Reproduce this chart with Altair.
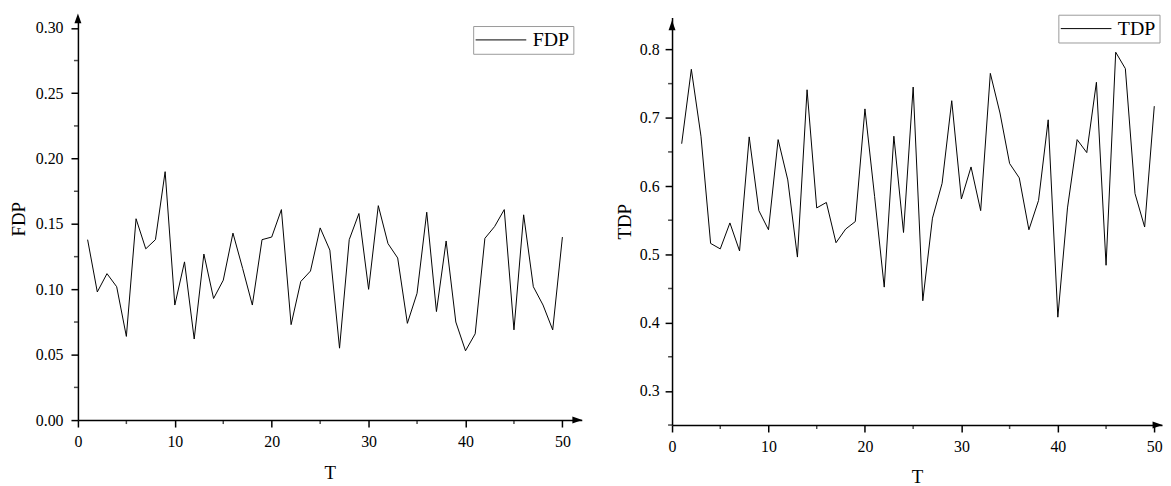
import altair as alt
import pandas as pd

T = list(range(1, 51))
FDP = [0.138, 0.098, 0.112, 0.102, 0.064, 0.154, 0.131, 0.138, 0.190, 0.088,
       0.121, 0.062, 0.127, 0.093, 0.107, 0.143, 0.116, 0.088, 0.138, 0.140,
       0.161, 0.073, 0.106, 0.114, 0.147, 0.130, 0.055, 0.138, 0.158, 0.100,
       0.164, 0.135, 0.124, 0.074, 0.097, 0.159, 0.083, 0.137, 0.075, 0.053,
       0.066, 0.139, 0.148, 0.161, 0.069, 0.157, 0.102, 0.088, 0.069, 0.140]
TDP = [0.662, 0.771, 0.673, 0.516, 0.508, 0.546, 0.505, 0.672, 0.564, 0.536,
       0.668, 0.609, 0.496, 0.741, 0.568, 0.576, 0.517, 0.537, 0.548, 0.713,
       0.585, 0.452, 0.673, 0.532, 0.745, 0.432, 0.553, 0.604, 0.725, 0.581,
       0.628, 0.564, 0.765, 0.707, 0.633, 0.612, 0.536, 0.579, 0.697, 0.408,
       0.568, 0.668, 0.649, 0.752, 0.484, 0.796, 0.772, 0.589, 0.540, 0.717]

X_MAJOR = [0, 10, 20, 30, 40, 50]
X_MINOR = [5, 15, 25, 35, 45]
FDP_MAJOR = [0.0, 0.05, 0.10, 0.15, 0.20, 0.25, 0.30]
FDP_MINOR = [0.025, 0.075, 0.125, 0.175, 0.225, 0.275]
TDP_MAJOR = [0.3, 0.4, 0.5, 0.6, 0.7, 0.8]
TDP_MINOR = [0.25, 0.35, 0.45, 0.55, 0.65, 0.75]

FONT = "Liberation Serif"


def panel(name, values, y_major, y_minor, y_dom, y_fmt, w, h, x_max,
          leg_x, leg_y, y_lab_pad, y_title_pad, y_arrow_cy, x_title_pad):
    df = pd.DataFrame({"T": T, "value": values, "series": [name] * len(T)})
    x_scale = alt.Scale(domain=[0, x_max], nice=False, zero=False)
    y_scale = alt.Scale(domain=y_dom, nice=False, zero=False)
    x_axis = alt.Axis(
        values=X_MAJOR, format="d", tickSize=7,
        labelFont=FONT, labelFontSize=16, labelColor="black",
        labelPadding=6.5, titlePadding=x_title_pad,
        labelFlush=False, labelOverlap=False, labelBound=False,
    )
    y_axis = alt.Axis(
        values=y_major, format=y_fmt, tickSize=7,
        labelFont=FONT, labelFontSize=16, labelColor="black",
        labelPadding=y_lab_pad, titlePadding=y_title_pad,
        labelFlush=False, labelOverlap=False, labelBound=False,
    )
    x = alt.X("T:Q", title="T", scale=x_scale, axis=x_axis)
    y = alt.Y("value:Q", title=name, scale=y_scale, axis=y_axis)
    color = alt.Color(
        "series:N",
        scale=alt.Scale(domain=[name], range=["black"]),
        legend=alt.Legend(
            title=None, orient="none", legendX=leg_x, legendY=leg_y,
            symbolType="M-3,0H3", symbolSize=290, symbolOffset=14,
            symbolStrokeWidth=1, symbolStrokeColor="black",
            labelOffset=22, labelFont=FONT, labelFontSize=20, labelColor="black",
            padding=4, strokeColor="#9a9a9a", fillColor="white", cornerRadius=0,
        ),
    )
    line = alt.Chart(df).mark_line(strokeWidth=1).encode(x=x, y=y, color=color)

    # minor ticks, placed through the chart's own scales
    ymin_df = pd.DataFrame({"value": y_minor})
    ymin = alt.Chart(ymin_df).mark_tick(
        orient="horizontal", size=4, thickness=1.5, color="black"
    ).encode(y=alt.Y("value:Q", title=name, scale=y_scale, axis=y_axis),
             x=alt.value(-2))
    xmin_df = pd.DataFrame({"T": X_MINOR})
    xmin = alt.Chart(xmin_df).mark_tick(
        orient="vertical", size=4, thickness=1.5, color="black"
    ).encode(x=alt.X("T:Q", title="T", scale=x_scale, axis=x_axis),
             y=alt.value(h + 2))

    one = pd.DataFrame({"k": [0]})
    yarrow = alt.Chart(one).mark_point(
        shape="M0,-1L-0.7,1L0.7,1Z", filled=True, size=100, color="black",
        opacity=1, strokeWidth=0,
    ).encode(x=alt.value(0), y=alt.value(y_arrow_cy))
    xarrow = alt.Chart(one).mark_point(
        shape="M1,0L-1,-0.7L-1,0.7Z", filled=True, size=100, color="black",
        opacity=1, strokeWidth=0,
    ).encode(x=alt.value(w - 4.5), y=alt.value(h))
    return alt.layer(line, ymin, xmin, yarrow, xarrow).properties(width=w, height=h)


left = panel("FDP", FDP, FDP_MAJOR, FDP_MINOR, [0, 0.308], ".2f",
             508, 406, 52, 398.5, 8.7, 8, 7, 1, 14)
right = panel("TDP", TDP, TDP_MAJOR, TDP_MINOR, [0.25, 0.847], ".1f",
              494, 411, 50.8, 389.5, -2.7, 6, 4.5, 8, 13)

chart = alt.hconcat(left, right, spacing=33).resolve_scale(
    color="independent"
).resolve_legend(color="independent").properties(
    padding={"left": 1.5, "top": 3.5, "right": 0, "bottom": 0}
).configure(font=FONT).configure_axis(
    domainColor="black", domainWidth=1.5, tickColor="black", tickWidth=1.5,
    labelFont=FONT, labelFontSize=16, labelColor="black",
    titleFont=FONT, titleFontSize=19, titleFontWeight="normal", titleColor="black",
    grid=False,
).configure_view(stroke=None)

chart.save("out.html", embed_options={"renderer": "svg", "actions": False})
